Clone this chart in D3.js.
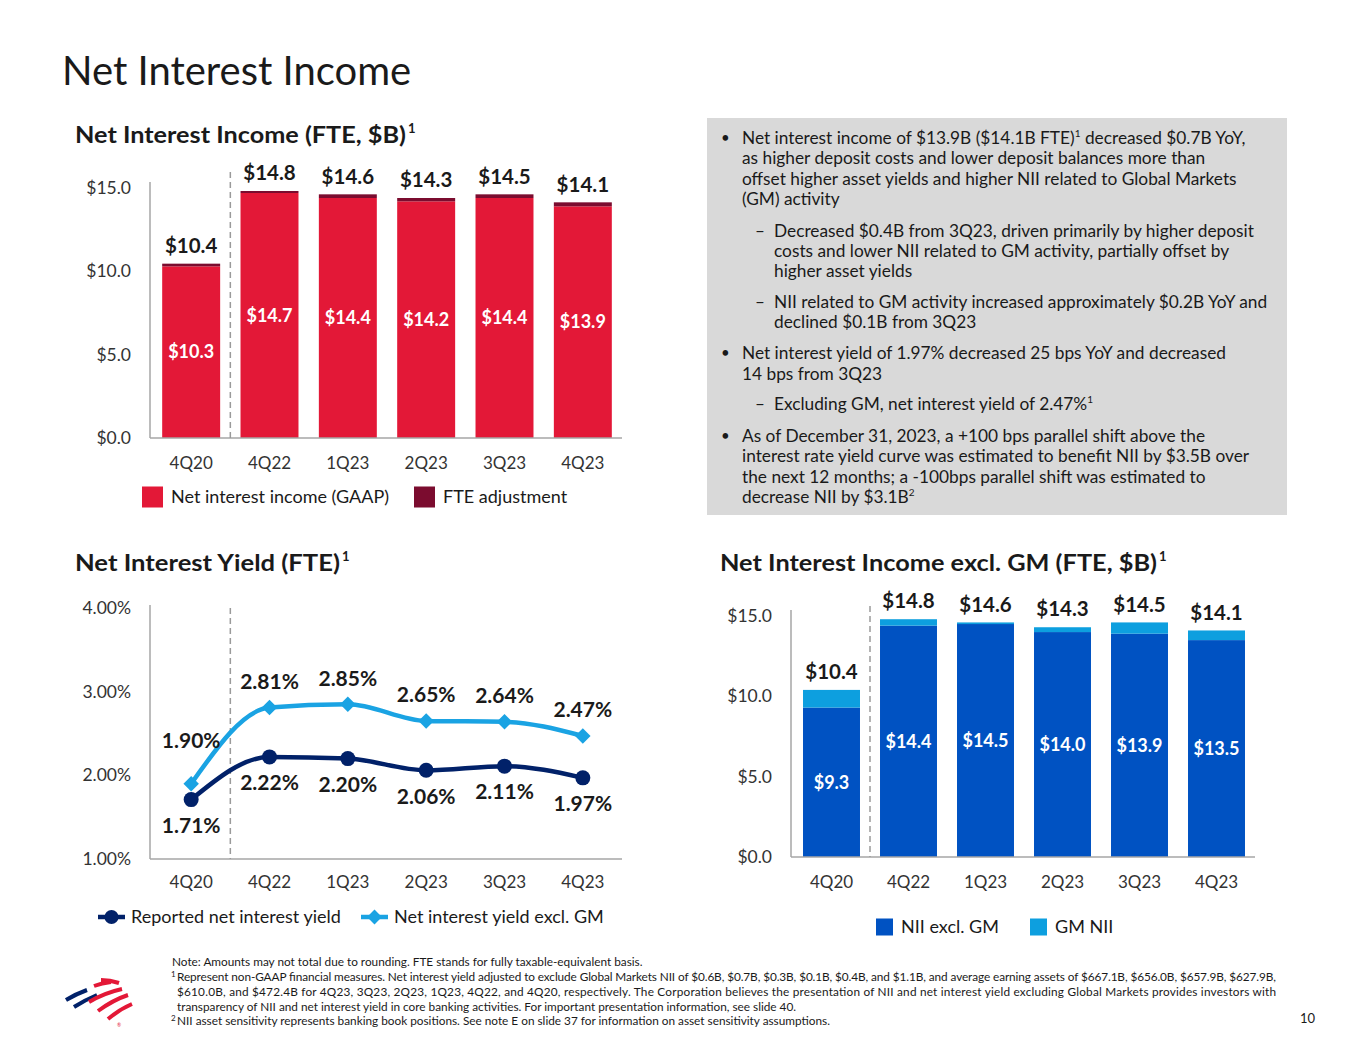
<!DOCTYPE html>
<html><head><meta charset="utf-8">
<script src="https://cdn.jsdelivr.net/npm/d3@7"></script>
<style>
body{margin:0;background:#fff}
svg{display:block}
text{font-family:Lato,"Open Sans",sans-serif}
</style>
</head><body>
<svg id="c" width="1365" height="1055"></svg>
<script>
// ---------- data ----------
const quarters = ["4Q20","4Q22","1Q23","2Q23","3Q23","4Q23"];
const niiGaap = [10.3,14.7,14.4,14.2,14.4,13.9];
const fteAdj = [0.16,0.12,0.22,0.2,0.22,0.24];
const niiTotal = [10.4,14.8,14.6,14.3,14.5,14.1];
const yieldReported = [1.71,2.22,2.20,2.06,2.11,1.97];
const yieldExGM = [1.90,2.81,2.85,2.65,2.64,2.47];
const niiExGM = [9.3,14.4,14.5,14.0,13.9,13.5];
const gmNii = [1.1,0.4,0.1,0.3,0.7,0.6];
const niiTicks = [0,5,10,15];
const yieldTicks = [1,2,3,4];
const legend1 = ["Net interest income (GAAP)","FTE adjustment"];
const legend3 = ["Reported net interest yield","Net interest yield excl. GM"];
const legend4 = ["NII excl. GM","GM NII"];

// ---------- styles ----------
const RED="#e31837", MAROON="#7b0c2f", NAVY="#012169", LBLUE="#1aa3e3", BLUE="#0052c2", GM="#0d9fdf";
const AX="#a6a6a6", TXT="#1a1a1a", LAB="#333333";
const svg = d3.select("#c");

function fmtB(v){return "$"+v.toFixed(1);}

// page title
svg.append("text").attr("x",62).attr("y",85).attr("font-size",40).attr("fill",TXT).text("Net Interest Income");

function subtitle(x,y,t,w){
  svg.append("text").attr("x",x).attr("y",y).attr("font-size",22).attr("font-weight",700).attr("fill",TXT)
    .attr("textLength",w).attr("lengthAdjust","spacingAndGlyphs").text(t);
  svg.append("text").attr("x",x+w+2).attr("y",y-10).attr("font-size",13).attr("font-weight",700).attr("fill",TXT).text("1");
}
subtitle(75,143,"Net Interest Income (FTE, $B)",331);
subtitle(75,571,"Net Interest Yield (FTE)",265);
subtitle(720,571,"Net Interest Income excl. GM (FTE, $B)",437);

function styleAxis(g,size){
  g.select(".domain").remove();
  g.selectAll("text").attr("font-size",size).attr("fill",LAB).attr("font-family","Lato,'Open Sans',sans-serif");
}

// ---------- generic stacked bar chart ----------
function stackedBars(cfg){
  const x = d3.scaleBand().domain(quarters).range(cfg.xr).paddingInner(0.26).paddingOuter(0.13);
  const y = d3.scaleLinear().domain([0,15]).range(cfg.yr);
  const g = svg.append("g");
  const ya = g.append("g").attr("transform",`translate(${cfg.xr[0]-2},0)`)
    .call(d3.axisLeft(y).tickValues(niiTicks).tickFormat(fmtB).tickSize(0).tickPadding(19));
  styleAxis(ya,17.5);
  const xa = g.append("g").attr("transform",`translate(0,${y(0)})`)
    .call(d3.axisBottom(x).tickSize(0).tickPadding(19));
  styleAxis(xa,17);
  quarters.forEach((q,i)=>{
    const b = cfg.base[i], t = cfg.top[i];
    g.append("rect").attr("x",x(q)).attr("width",x.bandwidth())
      .attr("y",y(b)).attr("height",y(0)-y(b)).attr("fill",cfg.c1);
    g.append("rect").attr("x",x(q)).attr("width",x.bandwidth())
      .attr("y",y(b+t)).attr("height",y(b)-y(b+t)).attr("fill",cfg.c2);
    g.append("text").attr("x",x(q)+x.bandwidth()/2).attr("y",y(b+t)-18).attr("dy","0.35em")
      .attr("text-anchor","middle").attr("font-size",20.5).attr("font-weight",700).attr("fill",TXT)
      .text(fmtB(cfg.totals[i]));
    g.append("text").attr("x",x(q)+x.bandwidth()/2).attr("y",(y(b)+y(0))/2).attr("dy","0.35em")
      .attr("text-anchor","middle").attr("font-size",18).attr("font-weight",700).attr("fill","#fff")
      .text(fmtB(b));
  });
  g.append("line").attr("x1",cfg.xr[0]-2).attr("x2",cfg.xr[0]-2).attr("y1",y(15)-6).attr("y2",y(0))
    .attr("stroke",AX).attr("stroke-width",1.5);
  g.append("line").attr("x1",cfg.xr[0]-2).attr("x2",cfg.xr[1]).attr("y1",y(0)).attr("y2",y(0))
    .attr("stroke",AX).attr("stroke-width",1.5);
  const dx = (x(quarters[0])+x.bandwidth()+x(quarters[1]))/2;
  g.append("line").attr("x1",dx).attr("x2",dx).attr("y1",cfg.dashTop).attr("y2",y(0))
    .attr("stroke","#9a9a9a").attr("stroke-width",1.5).attr("stroke-dasharray","6,4");
  cfg.legend.forEach((l,i)=>{
    const lx = cfg.legX[i];
    g.append("rect").attr("x",lx).attr("y",cfg.legY-cfg.sq/2).attr("width",cfg.sq).attr("height",cfg.sq)
      .attr("fill",i===0?cfg.c1:cfg.c2);
    g.append("text").attr("x",lx+cfg.sq+8).attr("y",cfg.legY).attr("dy","0.35em")
      .attr("font-size",18).attr("fill",TXT).text(l);
  });
}

stackedBars({xr:[152,622], yr:[438,188], base:niiGaap, top:fteAdj, totals:niiTotal,
  c1:RED, c2:MAROON, dashTop:172, legend:legend1, legX:[142,414], legY:497, sq:21});
stackedBars({xr:[793,1255], yr:[857,616], base:niiExGM, top:gmNii, totals:niiTotal,
  c1:BLUE, c2:GM, dashTop:606, legend:legend4, legX:[876,1030], legY:927, sq:17});

// ---------- line chart ----------
{
  const x = d3.scaleBand().domain(quarters).range([152,622]).paddingInner(0.26).paddingOuter(0.13);
  const cx = q => x(q)+x.bandwidth()/2;
  const y = d3.scaleLinear().domain([1,4]).range([859,608]);
  const g = svg.append("g");
  const ya = g.append("g").attr("transform","translate(150,0)")
    .call(d3.axisLeft(y).tickValues(yieldTicks).tickFormat(d=>d.toFixed(2)+"%").tickSize(0).tickPadding(19));
  styleAxis(ya,17.5);
  const xa = g.append("g").attr("transform",`translate(0,${y(1)})`)
    .call(d3.axisBottom(x).tickSize(0).tickPadding(17));
  styleAxis(xa,17);
  g.append("line").attr("x1",150).attr("x2",150).attr("y1",605).attr("y2",y(1)).attr("stroke",AX).attr("stroke-width",1.5);
  g.append("line").attr("x1",150).attr("x2",622).attr("y1",y(1)).attr("y2",y(1)).attr("stroke",AX).attr("stroke-width",1.5);
  const dx = (x(quarters[0])+x.bandwidth()+x(quarters[1]))/2;
  g.append("line").attr("x1",dx).attr("x2",dx).attr("y1",608).attr("y2",y(1))
    .attr("stroke","#9a9a9a").attr("stroke-width",1.5).attr("stroke-dasharray","6,4");

  const line = d3.line().x((d,i)=>cx(quarters[i])).y(d=>y(d)).curve(d3.curveMonotoneX);
  g.append("path").attr("d",line(yieldExGM)).attr("fill","none").attr("stroke",LBLUE).attr("stroke-width",4.5);
  g.append("path").attr("d",line(yieldReported)).attr("fill","none").attr("stroke",NAVY).attr("stroke-width",4.5);
  yieldExGM.forEach((v,i)=>{
    g.append("path").attr("d",d3.symbol().type(d3.symbolSquare).size(120)()).attr("fill",LBLUE)
      .attr("transform",`translate(${cx(quarters[i])},${y(v)}) rotate(45)`);
    const off = i===0 ? -43 : -26;
    g.append("text").attr("x",cx(quarters[i])).attr("y",y(v)+off).attr("dy","0.35em").attr("text-anchor","middle")
      .attr("font-size",21).attr("font-weight",700).attr("fill",TXT).text(v.toFixed(2)+"%");
  });
  yieldReported.forEach((v,i)=>{
    g.append("circle").attr("cx",cx(quarters[i])).attr("cy",y(v)).attr("r",7.5).attr("fill",NAVY);
    g.append("text").attr("x",cx(quarters[i])).attr("y",y(v)+26).attr("dy","0.35em").attr("text-anchor","middle")
      .attr("font-size",21).attr("font-weight",700).attr("fill",TXT).text(v.toFixed(2)+"%");
  });
  const lg = [{x:98,c:NAVY,m:"c",t:legend3[0]},{x:361,c:LBLUE,m:"d",t:legend3[1]}];
  lg.forEach(l=>{
    g.append("line").attr("x1",l.x).attr("x2",l.x+27).attr("y1",917).attr("y2",917).attr("stroke",l.c).attr("stroke-width",4.5);
    if(l.m==="c") g.append("circle").attr("cx",l.x+13.5).attr("cy",917).attr("r",7).attr("fill",l.c);
    else g.append("path").attr("d",d3.symbol().type(d3.symbolSquare).size(110)()).attr("fill",l.c)
      .attr("transform",`translate(${l.x+13.5},917) rotate(45)`);
    g.append("text").attr("x",l.x+33).attr("y",917).attr("dy","0.35em").attr("font-size",18).attr("fill",TXT).text(l.t);
  });
}

// ---------- commentary box ----------
svg.append("rect").attr("x",707).attr("y",118).attr("width",580).attr("height",397).attr("fill","#d9d9d9");
const boxLines = [
  {t:"b", y:138, s:["Net interest income of $13.9B ($14.1B FTE)",["1"]," decreased $0.7B YoY,"]},
  {t:"", y:158, s:["as higher deposit costs and lower deposit balances more than"]},
  {t:"", y:179, s:["offset higher asset yields and higher NII related to Global Markets"]},
  {t:"", y:199, s:["(GM) activity"]},
  {t:"d", y:231, s:["Decreased $0.4B from 3Q23, driven primarily by higher deposit"]},
  {t:"s", y:251, s:["costs and lower NII related to GM activity, partially offset by"]},
  {t:"s", y:271, s:["higher asset yields"]},
  {t:"d", y:302, s:["NII related to GM activity increased approximately $0.2B YoY and"]},
  {t:"s", y:322, s:["declined $0.1B from 3Q23"]},
  {t:"b", y:353, s:["Net interest yield of 1.97% decreased 25 bps YoY and decreased"]},
  {t:"", y:374, s:["14 bps from 3Q23"]},
  {t:"d", y:404, s:["Excluding GM, net interest yield of 2.47%",["1"]]},
  {t:"b", y:436, s:["As of December 31, 2023, a +100 bps parallel shift above the"]},
  {t:"", y:456, s:["interest rate yield curve was estimated to benefit NII by $3.5B over"]},
  {t:"", y:477, s:["the next 12 months; a -100bps parallel shift was estimated to"]},
  {t:"", y:497, s:["decrease NII by $3.1B",["2"]]}
];
boxLines.forEach(l=>{
  const sub = l.t==="d"||l.t==="s";
  if(l.t==="b") svg.append("text").attr("x",721).attr("y",l.y).attr("dy","0.35em").attr("font-size",15).attr("fill",TXT).text("•");
  if(l.t==="d") svg.append("text").attr("x",755).attr("y",l.y).attr("dy","0.35em").attr("font-size",17).attr("fill",TXT).text("–");
  const tx = svg.append("text").attr("x",sub?774:742).attr("y",l.y+6).attr("font-size",17.3).attr("fill",TXT);
  let raised = false;
  l.s.forEach(p=>{
    if(Array.isArray(p)){
      tx.append("tspan").attr("font-size",10).attr("dy",-7).text(p[0]);
      raised = true;
    } else {
      const ts = tx.append("tspan").text(p);
      if(raised){ ts.attr("dy",7); raised=false; }
    }
  });
});

// ---------- footnotes ----------
const notes = [
  {y:966, sup:null, x:172, t:"Note: Amounts may not total due to rounding. FTE stands for fully taxable-equivalent basis."},
  {y:981, sup:"1", x:177, t:"Represent non-GAAP financial measures. Net interest yield adjusted to exclude Global Markets NII of $0.6B, $0.7B, $0.3B, $0.1B, $0.4B, and $1.1B, and average earning assets of $667.1B, $656.0B, $657.9B, $627.9B,", just:true},
  {y:996, sup:null, x:177, t:"$610.0B, and $472.4B for 4Q23, 3Q23, 2Q23, 1Q23, 4Q22, and 4Q20, respectively. The Corporation believes the presentation of NII and net interest yield excluding Global Markets provides investors with", just:true},
  {y:1011, sup:null, x:177, t:"transparency of NII and net interest yield in core banking activities. For important presentation information, see slide 40."},
  {y:1025, sup:"2", x:177, t:"NII asset sensitivity represents banking book positions. See note E on slide 37 for information on asset sensitivity assumptions."}
];
notes.forEach(n=>{
  if(n.sup) svg.append("text").attr("x",171).attr("y",n.y-4).attr("font-size",8).attr("fill",TXT).text(n.sup);
  const tx = svg.append("text").attr("x",n.x).attr("y",n.y).attr("font-size",11.8).attr("fill",TXT).text(n.t);
  if(n.just) tx.attr("textLength",1276-n.x).attr("lengthAdjust","spacing");
});
svg.append("text").attr("x",1300).attr("y",1023).attr("font-size",13).attr("fill",TXT).text("10");

// ---------- logo ----------
const logo = svg.append("g");
const stripes = [
  {c:NAVY, d:"M66,1000 Q76,994 87,990"},
  {c:NAVY, d:"M74,1007 Q85,1000 97,995"},
  {c:RED, d:"M94,986 Q102,983 111,982"},
  {c:RED, d:"M101,980 Q110,980 119,983"},
  {c:RED, d:"M89,1002 Q104,993 122,989"},
  {c:RED, d:"M98,1011 Q113,1000 128,995"},
  {c:RED, d:"M108,1019 Q120,1009 132,1004"}
];
stripes.forEach(s=>logo.append("path").attr("d",s.d).attr("fill","none").attr("stroke",s.c).attr("stroke-width",4));
logo.append("text").attr("x",117).attr("y",1027).attr("font-size",5).attr("fill",RED).text("®");
</script>
</body></html>
